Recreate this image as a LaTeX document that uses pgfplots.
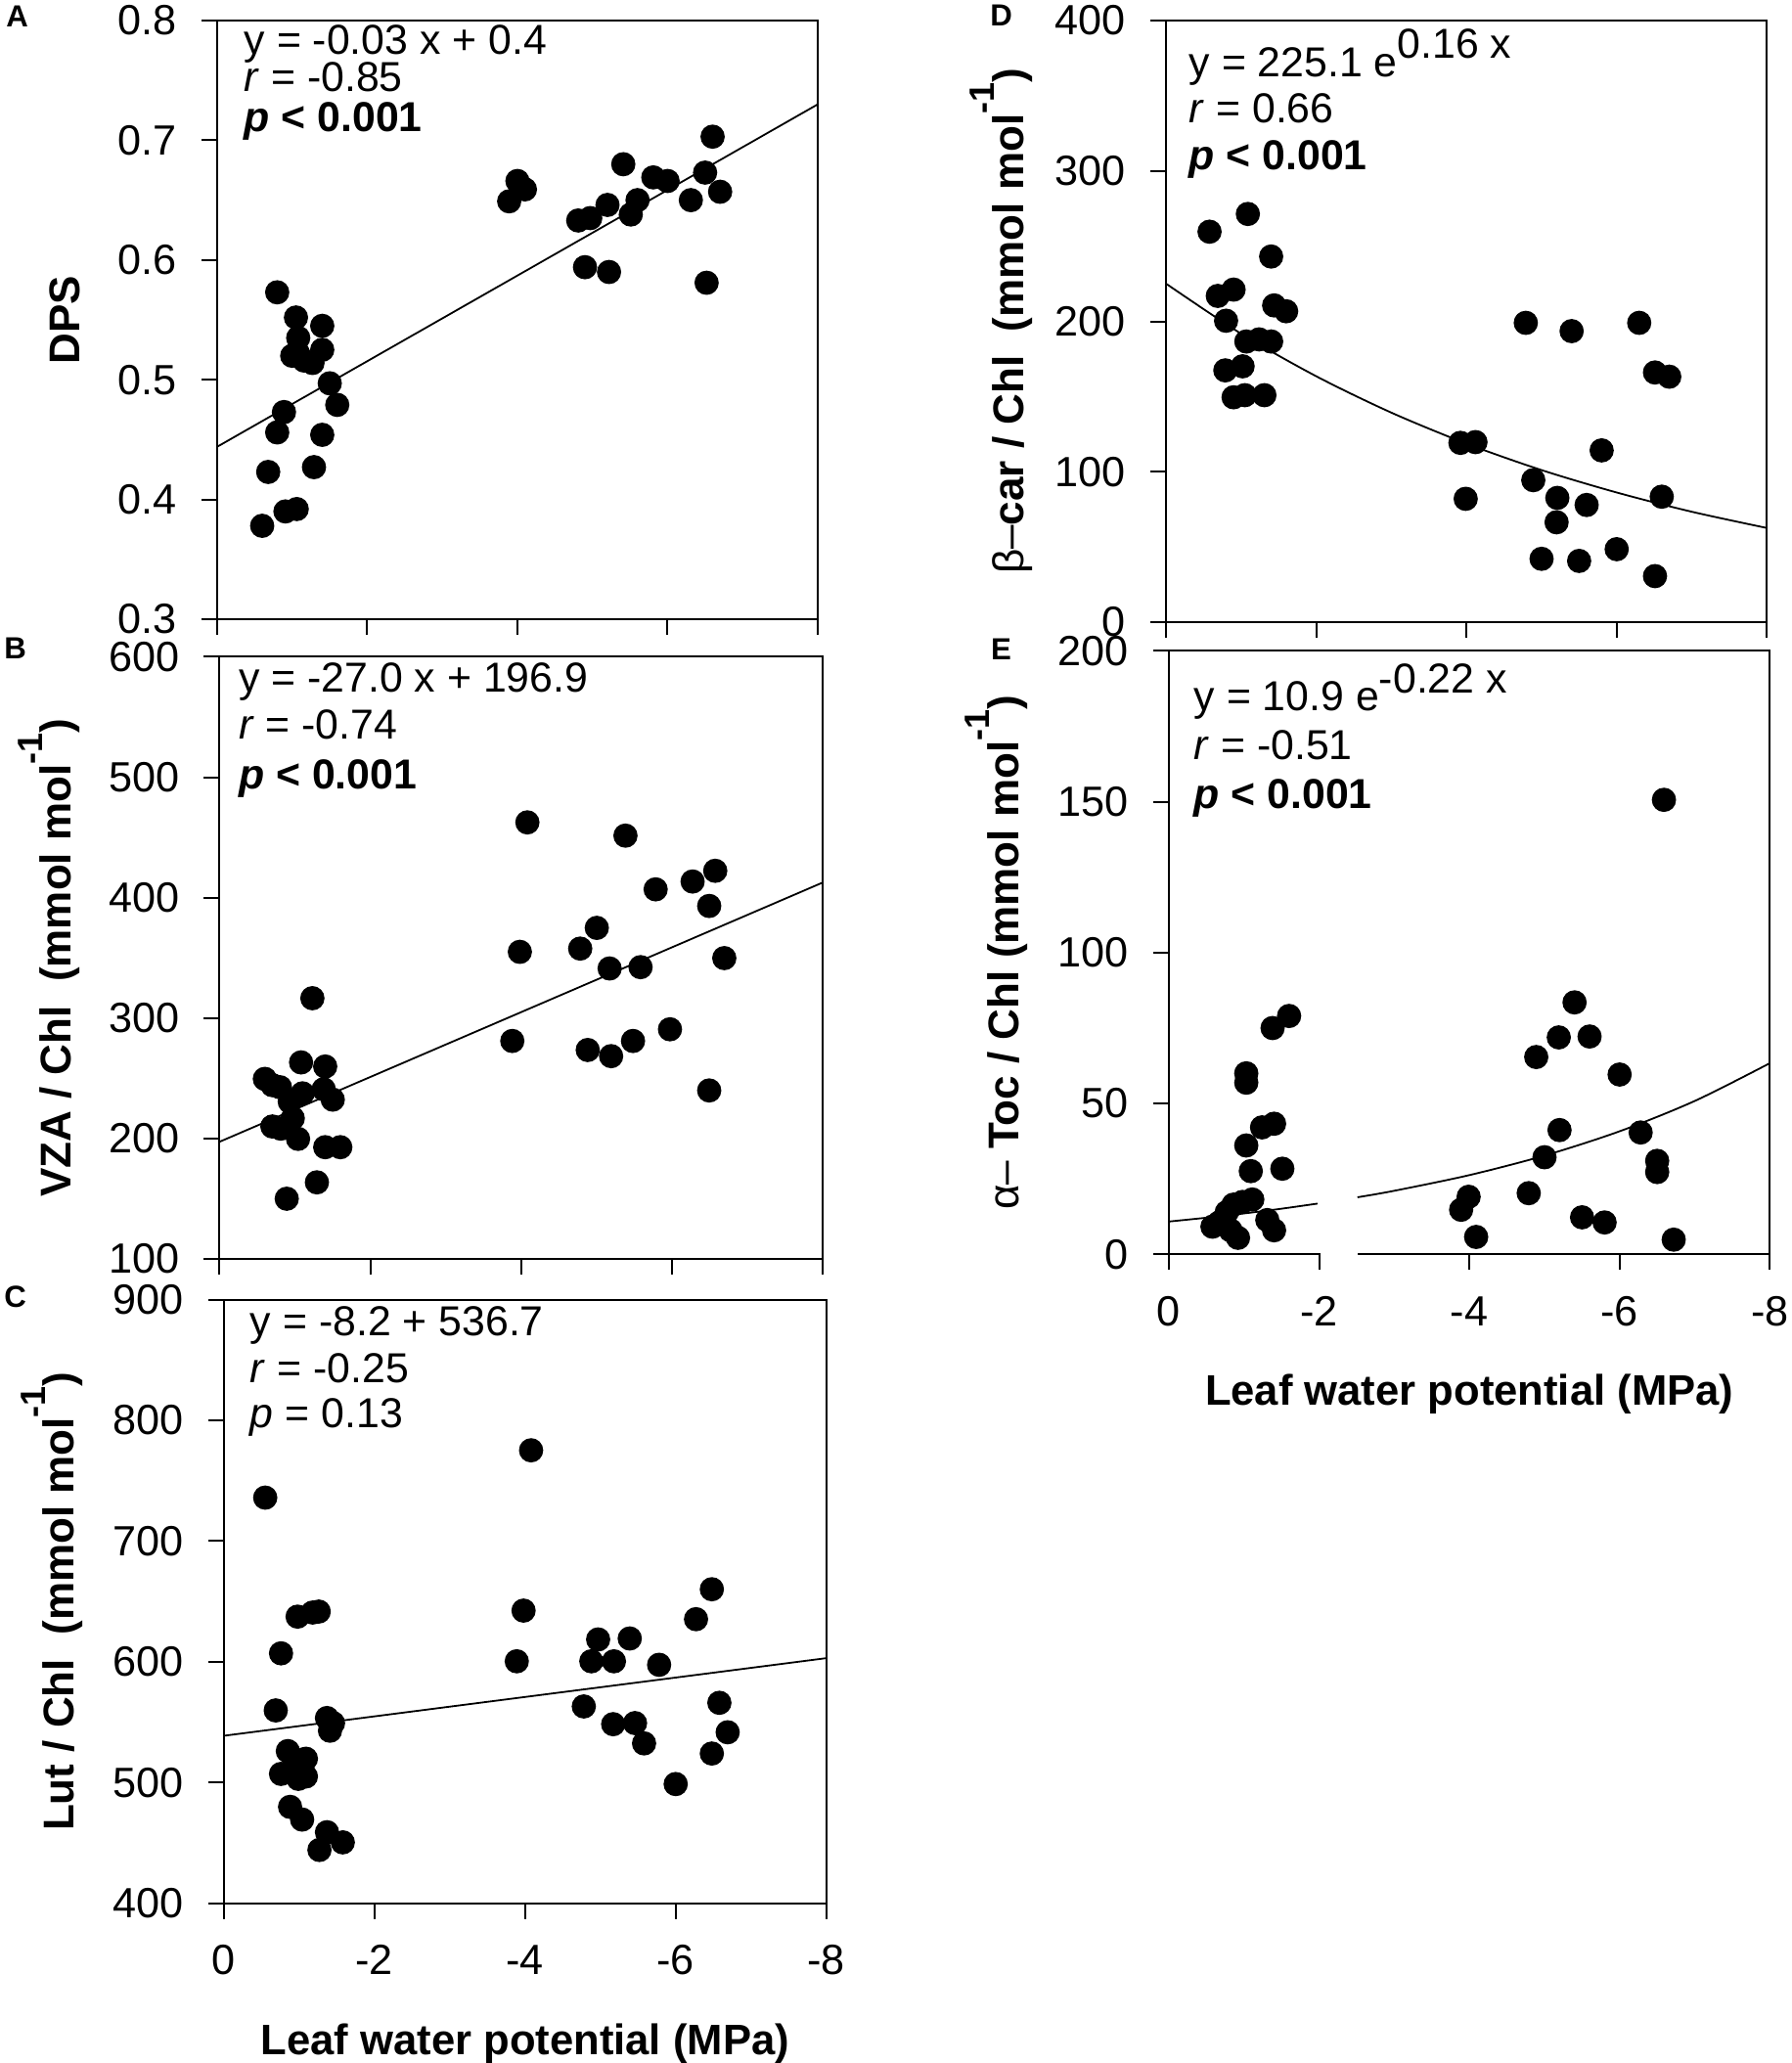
\documentclass[border=0pt]{standalone}
\usepackage{fontspec}
\setmainfont{Liberation Sans}
\usepackage{pgfplots}
\pgfplotsset{compat=1.18}
\newcommand{\sups}{\raisebox{7.3pt}{\fontsize{9}{10}\selectfont -1}}
\pgfplotsset{
  panel/.style={
    scale only axis,
    x dir=reverse, xmin=-8, xmax=0,
    xtick={0,-2,-4,-6,-8},
    xticklabels={},
    tick align=outside,
    tick pos=left,
    major tick length=4pt,
    axis line style={line width=0.5pt},
    every tick/.style={line width=0.5pt, black},
    tick label style={font=\fontsize{10.8}{12}\selectfont, inner sep=1pt},
    yticklabel style={xshift=-5.1pt},
    xticklabel style={yshift=-5.6pt},
    xlabel style={font=\bfseries\fontsize{10.9}{13}\selectfont, anchor=base},
    ylabel style={font=\bfseries\fontsize{11}{13}\selectfont, anchor=base},
  },
  dots/.style={only marks, mark=*, mark size=2.9pt, mark options={fill=black, draw=black}},
  fit/.style={no marks, black, line width=0.45pt},
}
\newcommand{\eqtext}[3]{\node[anchor=base west, inner sep=0, font=\fontsize{10.7}{12}\selectfont] at ([xshift=#1, yshift=-#2]axis description cs:0,1) {#3};}
\begin{document}
\begin{tikzpicture}
% panel letters
\node[font=\bfseries\fontsize{7.8}{8}\selectfont, inner sep=1pt] at (4.4pt,-4.25pt) {A};
\node[font=\bfseries\fontsize{7.8}{8}\selectfont, inner sep=1pt] at (3.9pt,-165.75pt) {B};
\node[font=\bfseries\fontsize{7.8}{8}\selectfont, inner sep=1pt] at (3.9pt,-331.5pt) {C};
\node[font=\bfseries\fontsize{7.8}{8}\selectfont, inner sep=1pt] at (255.9pt,-3.9pt) {D};
\node[font=\bfseries\fontsize{7.8}{8}\selectfont, inner sep=1pt] at (255.9pt,-166pt) {E};

% ---------- A ----------
\begin{axis}[panel, at={(55.5pt,-158.25pt)}, anchor=south west, width=153.5pt, height=153pt,
  ymin=0.3, ymax=0.8, ytick={0.3,0.4,0.5,0.6,0.7,0.8}, yticklabels={0.3,0.4,0.5,0.6,0.7,0.8},
  ylabel={DPS}, ylabel style={at={([xshift=-35pt]axis description cs:0,0.5)}}]
\addplot[fit] coordinates {(0,0.444) (-8,0.730)};
\addplot[dots] table {
x y
-0.60 0.378
-0.68 0.423
-0.80 0.573
-0.80 0.456
-0.89 0.473
-0.91 0.390
-1.06 0.392
-1.05 0.552
-1.08 0.535
-1.07 0.523
-1.00 0.520
-1.16 0.516
-1.27 0.514
-1.40 0.545
-1.40 0.525
-1.29 0.427
-1.40 0.454
-1.50 0.497
-1.60 0.479
-3.89 0.649
-4.00 0.666
-4.10 0.659
-4.81 0.633
-4.90 0.594
-4.97 0.635
-5.20 0.646
-5.22 0.590
-5.41 0.680
-5.51 0.638
-5.60 0.650
-5.81 0.669
-6.00 0.666
-6.31 0.650
-6.50 0.673
-6.60 0.703
-6.70 0.657
-6.52 0.581
};
\eqtext{6.75pt}{8.65pt}{y = -0.03 x + 0.4}
\eqtext{6.75pt}{18.1pt}{\textit{r} = -0.85}
\eqtext{6.75pt}{28.25pt}{\textbf{\textit{p} < 0.001}}
\end{axis}

% ---------- B ----------
\begin{axis}[panel, at={(56.125pt,-321.75pt)}, anchor=south west, width=154.25pt, height=153.9pt,
  ymin=100, ymax=600, ytick={100,200,300,400,500,600}, yticklabels={100,200,300,400,500,600},
  ylabel={VZA / Chl\ \ (mmol mol\sups)}, ylabel style={at={([xshift=-37.9pt]axis description cs:0,0.5)}}]
\addplot[fit] coordinates {(0,197.3) (-8,412.7)};
\addplot[dots] table {
x y
-0.60 249.5
-0.70 244.3
-0.80 242.6
-0.70 210
-0.81 208.2
-0.89 150
-0.93 230.6
-0.97 216.8
-1.04 199.7
-1.08 263.2
-1.10 237.5
-1.23 316.5
-1.29 163.6
-1.40 259.8
-1.38 240.9
-1.50 232.3
-1.40 192.8
-1.60 192.8
-3.88 281
-3.98 355
-4.08 462.5
-4.78 357.7
-4.88 273.5
-5.00 374.9
-5.17 341.2
-5.19 268.4
-5.38 451.5
-5.48 281
-5.58 342.3
-5.78 406.9
-5.97 290.7
-6.27 413.4
-6.49 393.1
-6.57 422.3
-6.49 239.9
-6.69 349.8
};
\eqtext{4.75pt}{9pt}{y = -27.0 x + 196.9}
\eqtext{4.75pt}{21.1pt}{\textit{r} = -0.74}
\eqtext{4.75pt}{33.8pt}{\textbf{\textit{p} < 0.001}}
\end{axis}

% ---------- C ----------
\begin{axis}[panel, at={(57.2pt,-486.4pt)}, anchor=south west, width=154pt, height=154.25pt,
  ymin=400, ymax=900, ytick={400,500,600,700,800,900}, yticklabels={400,500,600,700,800,900},
  xticklabels={0,-2,-4,-6,-8},
  xlabel={Leaf water potential (MPa)}, xlabel style={at={([yshift=-38.7pt]axis description cs:0.5,0)}},
  ylabel={Lut / Chl\ \ (mmol mol\sups)}, ylabel style={at={([xshift=-38.2pt]axis description cs:0,0.5)}}]
\addplot[fit] coordinates {(0,538.7) (-8,603)};
\addplot[dots] table {
x y
-0.55 736
-0.69 559.7
-0.76 607
-0.76 507.1
-0.85 526
-0.88 479.8
-0.93 519.7
-0.98 637.4
-0.99 503
-1.04 469.3
-1.09 519.7
-1.09 505
-1.18 640.8
-1.26 641.6
-1.27 444.1
-1.37 458.8
-1.37 553.4
-1.45 549.2
-1.41 542.9
-1.58 450.4
-3.89 600.4
-3.98 642.4
-4.08 775.2
-4.78 563
-4.88 600.4
-4.97 618.5
-5.18 600.4
-5.17 548.3
-5.39 619.3
-5.46 549.2
-5.58 532.4
-5.78 597.5
-6.00 498.7
-6.27 635.3
-6.48 660.1
-6.48 524
-6.58 566
-6.69 541.6
};
\eqtext{6.6pt}{9.1pt}{y = -8.2 + 536.7}
\eqtext{6.6pt}{21.1pt}{\textit{r} = -0.25}
\eqtext{6.6pt}{32.8pt}{\textit{p} = 0.13}
\end{axis}

% ---------- D ----------
\begin{axis}[panel, at={(298pt,-159pt)}, anchor=south west, width=153.6pt, height=153.75pt,
  ymin=0, ymax=400, ytick={0,100,200,300,400}, yticklabels={0,100,200,300,400},
  ylabel={{\mdseries β–}car / Chl\ \ (mmol mol\sups)}, ylabel style={at={([xshift=-36.5pt]axis description cs:0,0.5)}}]
\addplot[fit, smooth] coordinates {(0,225.1) (-1,191.8) (-2,163.5) (-3,139.3) (-4,118.7) (-5,101.1) (-6,86.2) (-7,73.4) (-8,62.6)};
\addplot[dots] table {
x y
-0.58 259.6
-0.69 216.9
-0.80 200.4
-0.90 221.1
-1.09 271.4
-0.79 167.4
-0.90 149.5
-1.02 170.1
-1.05 150.9
-1.07 186.6
-1.24 188
-1.31 150.9
-1.40 243.1
-1.40 186.6
-1.44 210.6
-1.60 206.7
-3.92 119.2
-4.12 119.7
-3.99 82
-4.79 199
-4.89 94.4
-5.00 42.1
-5.21 82.6
-5.20 66.4
-5.40 193.5
-5.50 40.7
-5.60 77.9
-5.80 114.2
-6.00 48.5
-6.30 199
-6.51 166
-6.70 163.2
-6.60 83.4
-6.51 30.6
};
\eqtext{5.75pt}{14.25pt}{y = 225.1 e\raisebox{4.75pt}{0.16 x}}
\eqtext{5.75pt}{26pt}{\textit{r} = 0.66}
\eqtext{5.75pt}{38pt}{\textbf{\textit{p} < 0.001}}
\end{axis}

% ---------- E ----------
\begin{axis}[panel, at={(298.75pt,-320.6pt)}, anchor=south west, width=153.6pt, height=154.3pt,
  ymin=0, ymax=200, ytick={0,50,100,150,200}, yticklabels={0,50,100,150,200},
  xticklabels={0,-2,-4,-6,-8},
  xlabel={Leaf water potential (MPa)}, xlabel style={at={([yshift=-38.5pt]axis description cs:0.5,0)}},
  ylabel={{\mdseries α– }Toc / Chl (mmol mol\sups)}, ylabel style={at={([xshift=-38.5pt]axis description cs:0,0.5)}}]
\addplot[fit, smooth] coordinates {(0,10.9) (-0.5,12.17) (-1,13.58) (-1.5,15.16) (-1.98,16.85)};
\addplot[fit, smooth] coordinates {(-2.51,18.94) (-3,21.09) (-4,26.28) (-5,32.75) (-6,40.80) (-7,50.84) (-8,63.36)};
\addplot[dots] table {
x y
-0.58 9.2
-0.67 10.6
-0.77 14
-0.82 8
-0.92 5.5
-0.86 16.5
-0.98 17.4
-1.03 60
-1.03 56.9
-1.03 36.1
-1.09 27.6
-1.11 18.2
-1.24 42.1
-1.31 11.4
-1.40 8
-1.40 43.3
-1.38 75
-1.60 79
-1.51 28.4
-3.89 14.8
-3.99 19.1
-4.09 5.8
-4.79 20.3
-4.89 65.4
-5.00 32.2
-5.19 71.9
-5.20 41.2
-5.40 83.5
-5.50 12.3
-5.60 72.2
-5.80 10.6
-6.00 59.6
-6.28 40.4
-6.50 31
-6.50 27.3
-6.59 150.6
-6.72 4.9
};
\eqtext{6.25pt}{15.4pt}{y = 10.9 e\raisebox{4.6pt}{-0.22 x}}
\eqtext{6.25pt}{27.9pt}{\textit{r} = -0.51}
\eqtext{6.25pt}{40.35pt}{\textbf{\textit{p} < 0.001}}
\coordinate (eb1) at (axis cs:-2.0,0);
\coordinate (eb2) at (axis cs:-2.51,0);
\end{axis}
\fill[white] ([xshift=0.4pt,yshift=-0.7pt]eb1) rectangle ([yshift=0.7pt]eb2);
\pgfresetboundingbox
\path[use as bounding box] (0pt,0pt) rectangle (457.75pt,-527.25pt);
\end{tikzpicture}
\end{document}
